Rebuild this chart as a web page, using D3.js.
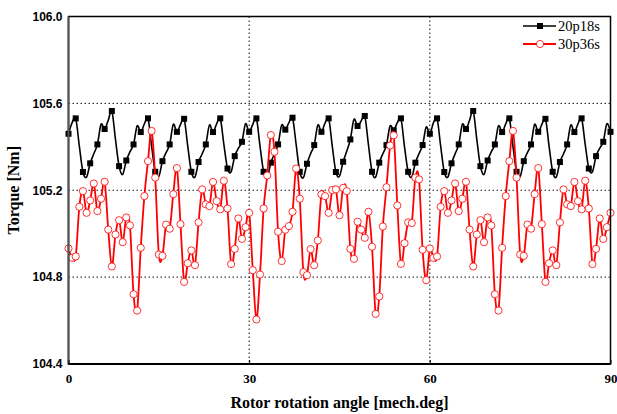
<!DOCTYPE html>
<html>
<head>
<meta charset="utf-8">
<script src="https://cdn.jsdelivr.net/npm/d3@7"></script>
<style>
body { margin: 0; background: #fff; }
svg { display: block; }
</style>
</head>
<body>
<svg id="chart" width="617" height="414"></svg>
<script>
var margin = {top: 16.5, right: 6.5, bottom: 50, left: 68.5};

var angleStep = 0.6;

var seriesNames = ["20p18s", "30p36s"];

var torque20p18s = [
	105.460, 105.511, 105.531, 105.403, 105.284, 105.261, 105.324, 105.368, 105.411, 105.503,
	105.482, 105.522, 105.565, 105.434, 105.311, 105.273, 105.337, 105.377, 105.411, 105.496,
	105.468, 105.506, 105.531, 105.403, 105.285, 105.264, 105.334, 105.373, 105.411, 105.503,
	105.469, 105.503, 105.529, 105.403, 105.285, 105.261, 105.330, 105.368, 105.411, 105.500,
	105.468, 105.506, 105.531, 105.411, 105.300, 105.285, 105.357, 105.393, 105.423, 105.506,
	105.469, 105.503, 105.531, 105.403, 105.285, 105.261, 105.327, 105.368, 105.411, 105.500,
	105.479, 105.511, 105.534, 105.411, 105.285, 105.258, 105.322, 105.368, 105.408, 105.500,
	105.469, 105.509, 105.531, 105.403, 105.284, 105.265, 105.331, 105.380, 105.434, 105.526,
	105.496, 105.519, 105.542, 105.411, 105.285, 105.261, 105.327, 105.368, 105.408, 105.496,
	105.476, 105.511, 105.531, 105.399, 105.285, 105.261, 105.327, 105.368, 105.408, 105.491,
	105.460, 105.511, 105.531, 105.403, 105.284, 105.261, 105.324, 105.368, 105.411, 105.503,
	105.482, 105.522, 105.565, 105.434, 105.311, 105.273, 105.337, 105.377, 105.411, 105.496,
	105.468, 105.506, 105.531, 105.403, 105.285, 105.264, 105.334, 105.373, 105.411, 105.503,
	105.469, 105.503, 105.529, 105.403, 105.285, 105.261, 105.330, 105.368, 105.411, 105.500,
	105.468, 105.506, 105.531, 105.411, 105.300, 105.285, 105.357, 105.393, 105.423, 105.506,
	105.469
];

var torque30p36s = [
	104.932, 104.889, 104.895, 105.124, 105.196, 105.096, 105.153, 105.231, 105.104, 105.161,
	105.239, 105.019, 104.849, 104.996, 105.062, 104.961, 105.075, 105.038, 104.721, 104.646,
	104.935, 105.173, 105.334, 105.473, 105.258, 104.904, 104.898, 105.042, 105.023, 105.182,
	105.302, 105.044, 104.778, 104.864, 104.923, 104.855, 105.052, 105.204, 105.135, 105.127,
	105.238, 105.150, 105.112, 105.244, 105.116, 104.860, 104.930, 105.070, 104.976, 105.030,
	105.096, 104.832, 104.605, 104.812, 105.116, 105.268, 105.454, 105.377, 105.009, 104.874,
	105.018, 105.035, 105.101, 105.300, 105.161, 104.823, 104.809, 104.929, 104.855, 104.969,
	105.181, 105.173, 105.096, 105.201, 105.204, 105.085, 105.211, 105.196, 104.930, 104.884,
	105.055, 105.019, 104.981, 105.101, 104.940, 104.631, 104.711, 105.033, 105.214, 105.406,
	105.453, 105.130, 104.861, 104.956, 105.052, 105.049, 105.258, 105.250, 104.926, 104.786,
	104.932, 104.889, 104.895, 105.124, 105.196, 105.096, 105.153, 105.231, 105.104, 105.161,
	105.239, 105.019, 104.849, 104.996, 105.062, 104.961, 105.075, 105.038, 104.721, 104.646,
	104.935, 105.173, 105.334, 105.473, 105.258, 104.904, 104.898, 105.042, 105.023, 105.182,
	105.302, 105.044, 104.778, 104.864, 104.923, 104.855, 105.052, 105.204, 105.135, 105.127,
	105.238, 105.150, 105.112, 105.244, 105.116, 104.860, 104.930, 105.070, 104.976, 105.030,
	105.096
];

var xTicks = [0, 30, 60, 90];
var yTicks = [104.4, 104.8, 105.2, 105.6, 106.0];
var xGrid = [30, 60];
var yGrid = [104.8, 105.2, 105.6];

var svg = d3.select("#chart");
var width = 617 - margin.left - margin.right;
var height = 414 - margin.top - margin.bottom;
var g = svg.append("g").attr("transform", "translate(" + margin.left + "," + margin.top + ")");

var x = d3.scaleLinear().domain([0, 90]).range([0, width]);
var y = d3.scaleLinear().domain([104.4, 106.0]).range([height, 0]);

// dotted grid
g.append("g").selectAll("line.hgrid")
	.data(yGrid)
	.enter().append("line")
	.attr("class", "hgrid")
	.attr("x1", 0).attr("x2", width)
	.attr("y1", function(d) { return y(d); })
	.attr("y2", function(d) { return y(d); })
	.attr("stroke", "#111")
	.attr("stroke-width", 1)
	.attr("stroke-dasharray", "1.5,2.5");

g.append("g").selectAll("line.vgrid")
	.data(xGrid)
	.enter().append("line")
	.attr("class", "vgrid")
	.attr("y1", 0).attr("y2", height)
	.attr("x1", function(d) { return x(d); })
	.attr("x2", function(d) { return x(d); })
	.attr("stroke", "#111")
	.attr("stroke-width", 1)
	.attr("stroke-dasharray", "1.5,2.5");

function toPoints(values) {
	return values.map(function(v, i) { return [i * angleStep, v]; });
}

var line = d3.line()
	.x(function(d) { return x(d[0]); })
	.y(function(d) { return y(d[1]); })
	.curve(d3.curveCardinal.tension(0));

var blackData = toPoints(torque20p18s);
var redData = toPoints(torque30p36s);

g.append("path")
	.datum(blackData)
	.attr("fill", "none")
	.attr("stroke", "#000")
	.attr("stroke-width", 1.6)
	.attr("d", line);

g.selectAll(".sq")
	.data(blackData.filter(function(d, i) { return i % 2 == 0; }))
	.enter().append("rect")
	.attr("class", "sq")
	.attr("x", function(d) { return x(d[0]) - 3; })
	.attr("y", function(d) { return y(d[1]) - 3; })
	.attr("width", 6)
	.attr("height", 6)
	.attr("fill", "#000");

g.append("path")
	.datum(redData)
	.attr("fill", "none")
	.attr("stroke", "#ff0000")
	.attr("stroke-width", 1.8)
	.attr("d", line);

g.selectAll(".dot")
	.data(redData)
	.enter().append("circle")
	.attr("class", "dot")
	.attr("r", 3.6)
	.attr("cx", function(d) { return x(d[0]); })
	.attr("cy", function(d) { return y(d[1]); })
	.attr("fill", "#fff")
	.attr("stroke", "#ff0000")
	.attr("stroke-width", 0.8);

// frame
g.append("rect")
	.attr("width", width)
	.attr("height", height)
	.attr("fill", "none")
	.attr("stroke", "#000")
	.attr("stroke-width", 1.5);

g.append("line")
	.attr("x1", 0).attr("x2", 0)
	.attr("y1", 0).attr("y2", height)
	.attr("stroke", "#555")
	.attr("stroke-width", 2);

g.append("line")
	.attr("x1", 0).attr("x2", width)
	.attr("y1", height).attr("y2", height)
	.attr("stroke", "#000")
	.attr("stroke-width", 2);

// axes
var xAxis = g.append("g")
	.attr("transform", "translate(0," + height + ")")
	.call(d3.axisBottom(x).tickValues(xTicks).tickSizeInner(-4).tickSizeOuter(0).tickPadding(10).tickFormat(d3.format("d")));
xAxis.select(".domain").remove();
xAxis.selectAll("line").attr("stroke", "#000");
xAxis.selectAll("text")
	.attr("font-family", "'Liberation Serif', 'Times New Roman', serif")
	.attr("font-weight", "bold")
	.attr("font-size", 13)
	.attr("fill", "#000");

var yAxis = g.append("g")
	.call(d3.axisLeft(y).tickValues(yTicks).tickSize(0).tickPadding(6).tickFormat(d3.format(".1f")));
yAxis.select(".domain").remove();
yAxis.selectAll("text")
	.attr("font-family", "'Liberation Sans', Arial, sans-serif")
	.attr("font-weight", "bold")
	.attr("font-size", 12)
	.attr("fill", "#000");

svg.append("text")
	.attr("x", margin.left + width / 2)
	.attr("y", 408)
	.attr("text-anchor", "middle")
	.attr("font-family", "'Liberation Serif', 'Times New Roman', serif")
	.attr("font-weight", "bold")
	.attr("font-size", 16)
	.text("Rotor rotation angle [mech.deg]");

svg.append("text")
	.attr("transform", "translate(19," + (margin.top + height / 2) + ") rotate(-90)")
	.attr("text-anchor", "middle")
	.attr("font-family", "'Liberation Serif', 'Times New Roman', serif")
	.attr("font-weight", "bold")
	.attr("font-size", 16)
	.text("Torque [Nm]");

// legend
var legend = svg.append("g");
var legendY = [26, 44];
seriesNames.forEach(function(name, i) {
	var color = i == 0 ? "#000" : "#ff0000";
	legend.append("line")
		.attr("x1", 523).attr("x2", 556)
		.attr("y1", legendY[i]).attr("y2", legendY[i])
		.attr("stroke", color)
		.attr("stroke-width", i == 0 ? 1.6 : 1.8);
	if (i == 0) {
		legend.append("rect")
			.attr("x", 537).attr("y", legendY[i] - 3)
			.attr("width", 6).attr("height", 6)
			.attr("fill", "#000");
	} else {
		legend.append("circle")
			.attr("cx", 540).attr("cy", legendY[i])
			.attr("r", 3.6)
			.attr("fill", "#fff")
			.attr("stroke", "#ff0000")
			.attr("stroke-width", 0.8);
	}
	legend.append("text")
		.attr("x", 558)
		.attr("y", legendY[i] + 5)
		.attr("font-family", "'Liberation Serif', 'Times New Roman', serif")
		.attr("font-size", 14.5)
		.attr("fill", "#000")
		.text(name);
});
</script>
</body>
</html>
